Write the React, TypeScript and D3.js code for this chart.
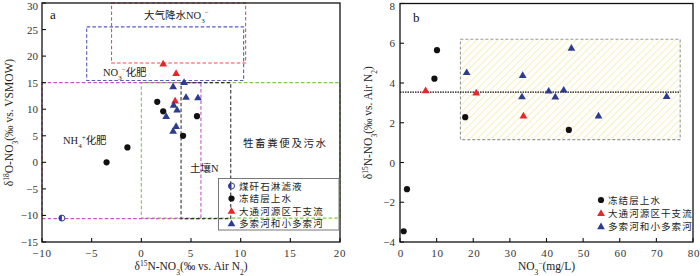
import React from "react";
import * as d3 from "d3";

// ---------- data ----------
// Panel a: δ15N (x) vs δ18O (y)
const coalX = [-8.0];
const coalY = [-10.5];
const frozenAX = [1.6, 2.2, 5.6, 4.2, -1.4, -3.5];
const frozenAY = [11.4, 9.6, 8.7, 5.0, 2.8, 0.0];
const redAX = [2.2, 3.5, 3.4];
const redAY = [18.6, 16.8, 11.6];
const blueAX = [4.3, 3.2, 4.5, 5.7, 3.25, 3.6, 2.5, 3.5, 3.2];
const blueAY = [15.1, 14.3, 12.3, 12.2, 10.8, 9.9, 8.7, 6.8, 5.9];

// Panel b: NO3- (x) vs δ15N (y)
const frozenBX = [10.1, 9.4, 17.8, 46.1, 1.9, 1.0];
const frozenBY = [5.65, 4.22, 2.28, 1.64, -1.34, -3.46];
const redBX = [7.0, 20.8, 33.7];
const redBY = [3.63, 3.52, 2.36];
const blueBX = [18.2, 33.5, 33.3, 40.6, 42.4, 44.7, 46.8, 54.2, 72.8];
const blueBY = [4.54, 4.4, 3.32, 3.61, 3.31, 3.66, 5.77, 2.36, 3.34];

// source regions in panel a: [x0, x1, y0, y1]
const regionRain = [-3, 10.5, 18.7, 30];
const regionNO3Fert = [-5.5, 10.3, 15.4, 25.5];
const regionNH4Fert = [-10, 6, -10.6, 15];
const regionManure = [0, 20, -10.5, 15];
const regionSoil = [4, 9, -10.6, 15];

// panel b reference
const hatchBox = [16.5, 76.5, 1.15, 6.2];
const meanLine = 3.54;
const meanLineExtent = [0, 76.5];

const ticksAX = [-10, -5, 0, 5, 10, 15, 20];
const ticksAY = [-15, -10, -5, 0, 5, 10, 15, 20, 25, 30];
const ticksBX = [0, 10, 20, 30, 40, 50, 60, 70, 80];
const ticksBY = [-4, -2, 0, 2, 4, 6, 8];

const legendA = ["煤矸石淋滤液", "冻结层上水", "大通河源区干支流", "多索河和小多索河"];
const legendB = ["冻结层上水", "大通河源区干支流", "多索河和小多索河"];

// ---------- styles ----------
const SERIF = "'Liberation Serif', 'Times New Roman', 'Noto Sans CJK SC', serif";
const CJK = "'Liberation Serif', 'Noto Sans CJK SC', sans-serif";
const RED = "#e8262a";
const BLUE = "#2d3c8e";
const BLACK = "#111";

const ax = d3.scaleLinear().domain([-10, 20]).range([42, 340]);
const ay = d3.scaleLinear().domain([-15, 30]).range([242, 3]);
const bx = d3.scaleLinear().domain([0, 80]).range([400, 693]);
const by = d3.scaleLinear().domain([-4, 8]).range([242, 3.5]);

const tri = d3.symbol(d3.symbolTriangle, 26)() as string;

function Tri({ x, y, c }: { x: number; y: number; c: string }) {
  return <path d={tri} transform={`translate(${x},${y + 0.6})`} fill={c} />;
}
function Dot({ x, y }: { x: number; y: number }) {
  return <circle cx={x} cy={y} r={3.1} fill={BLACK} />;
}
function Half({ x, y }: { x: number; y: number }) {
  const r = 3;
  return (
    <g>
      <circle cx={x} cy={y} r={r} fill="#fff" stroke={BLUE} strokeWidth={1} />
      <path d={`M${x},${y - r} A${r},${r} 0 0 0 ${x},${y + r} Z`} fill={BLUE} />
    </g>
  );
}

function Region({ r, color, sx, sy }: { r: number[]; color: string; sx: any; sy: any }) {
  const x0 = sx(r[0]), x1 = sx(r[1]), y0 = sy(r[3]), y1 = sy(r[2]);
  return (
    <rect x={x0} y={y0} width={x1 - x0} height={y1 - y0} fill="none" stroke={color}
      strokeWidth={1.1} strokeDasharray="3.5,2.2" />
  );
}

export default function App() {
  const aLeft = ax(-10), aRight = ax(20), aTop = ay(30), aBot = ay(-15);
  const bLeft = bx(0), bRight = bx(80), bTop = by(8), bBot = by(-4);
  const tickFont = { fontFamily: SERIF, fontSize: 11, fill: "#333" } as const;

  return (
    <svg width={700} height={276} style={{ position: "absolute", left: 0, top: 0, background: "#fff" }}>
      <defs>
        <pattern id="hatch" patternUnits="userSpaceOnUse" width={5} height={5} patternTransform="rotate(45)">
          <line x1={0} y1={0} x2={0} y2={5} stroke="#f3e79a" strokeWidth={1.3} />
        </pattern>
      </defs>
      <rect x={0} y={0} width={700} height={276} fill="#fff" />

      {/* ---------------- Panel a ---------------- */}
      <Region r={regionManure} color="#7cc84a" sx={ax} sy={ay} />
      <Region r={regionNH4Fert} color="#c455c4" sx={ax} sy={ay} />
      <Region r={regionSoil} color="#333" sx={ax} sy={ay} />
      <Region r={regionNO3Fert} color="#5a5ab8" sx={ax} sy={ay} />
      <Region r={regionRain} color="#f04a4e" sx={ax} sy={ay} />

      {/* axes frame */}
      <rect x={aLeft} y={aTop} width={aRight - aLeft} height={aBot - aTop} fill="none" stroke="#111" strokeWidth={1.3} />
      {ticksAY.map((t) => (
        <g key={"ay" + t}>
          <line x1={aLeft} x2={aLeft + 4} y1={ay(t)} y2={ay(t)} stroke="#111" strokeWidth={1.1} />
          <text x={aLeft - 4} y={Math.max(ay(t) + 4, 9.5)} textAnchor="end" {...tickFont}>
            {t < 0 ? "−" + Math.abs(t) : t}
          </text>
        </g>
      ))}
      {ticksAX.map((t) => (
        <g key={"ax" + t}>
          <line x1={ax(t)} x2={ax(t)} y1={aBot} y2={aBot - 4} stroke="#111" strokeWidth={1.1} />
          <text x={ax(t)} y={aBot + 15} textAnchor="middle" letterSpacing={0.8} {...tickFont}>
            {t < 0 ? "−" + Math.abs(t) : t}
          </text>
        </g>
      ))}

      {/* region labels */}
      <text x={144} y={19} fontFamily={CJK} fontSize={10.5} fill="#222">
        大气降水NO<tspan baselineShift="sub" fontSize={7}>3</tspan>
        <tspan baselineShift="super" fontSize={7}>−</tspan>
      </text>
      <text x={103} y={76} fontFamily={CJK} fontSize={10.5} fill="#222">
        NO<tspan baselineShift="sub" fontSize={7}>3</tspan>
        <tspan baselineShift="super" fontSize={7}>−</tspan>化肥
      </text>
      <text x={63} y={144} fontFamily={CJK} fontSize={10.5} fill="#222">
        NH<tspan baselineShift="sub" fontSize={7}>4</tspan>
        <tspan baselineShift="super" fontSize={7}>+</tspan>化肥
      </text>
      <text x={243} y={147} fontFamily={CJK} fontSize={10.5} letterSpacing={1.6} fill="#222">牲畜粪便及污水</text>
      <text x={190} y={171.5} fontFamily={CJK} fontSize={10.5} fill="#222">土壤N</text>
      <text x={50} y={19} fontFamily={SERIF} fontSize={13} fill="#111">a</text>

      {/* points a */}
      {coalX.map((x, i) => <Half key={"c" + i} x={ax(x)} y={ay(coalY[i])} />)}
      {frozenAX.map((x, i) => <Dot key={"fa" + i} x={ax(x)} y={ay(frozenAY[i])} />)}
      {redAX.map((x, i) => <Tri key={"ra" + i} x={ax(x)} y={ay(redAY[i])} c={RED} />)}
      {blueAX.map((x, i) => <Tri key={"ba" + i} x={ax(x)} y={ay(blueAY[i])} c={BLUE} />)}

      {/* legend a */}
      <rect x={218.5} y={178.5} width={120.5} height={51.5} fill="none" stroke="#777" strokeWidth={1} />
      {legendA.map((name, i) => {
        const yy = 186 + i * 12.5;
        return (
          <g key={"la" + i}>
            {i === 0 && <Half x={231.5} y={yy} />}
            {i === 1 && <Dot x={231.5} y={yy} />}
            {i === 2 && <Tri x={231.5} y={yy} c={RED} />}
            {i === 3 && <Tri x={231.5} y={yy} c={BLUE} />}
            <text x={239} y={yy + 3.8} fontFamily={CJK} fontSize={9.5} letterSpacing={1.1} fill="#222">{name}</text>
          </g>
        );
      })}

      {/* axis titles a */}
      <text transform={`translate(13,${(aTop + aBot) / 2}) rotate(-90)`} textAnchor="middle" fontFamily={SERIF} fontSize={11.5} fill="#222">
        δ<tspan baselineShift="super" fontSize={7.5}>18</tspan>O-NO<tspan baselineShift="sub" fontSize={7.5}>3</tspan>(‰ vs. VSMOW)
      </text>
      <text x={(aLeft + aRight) / 2} y={269.5} textAnchor="middle" fontFamily={SERIF} fontSize={11.5} fill="#222">
        δ<tspan baselineShift="super" fontSize={7.5}>15</tspan>N-NO<tspan baselineShift="sub" fontSize={7.5}>3</tspan>(‰ vs. Air N<tspan baselineShift="sub" fontSize={7.5}>2</tspan>)
      </text>

      {/* ---------------- Panel b ---------------- */}
      <rect x={bx(hatchBox[0])} y={by(hatchBox[3])} width={bx(hatchBox[1]) - bx(hatchBox[0])}
        height={by(hatchBox[2]) - by(hatchBox[3])} fill="url(#hatch)" stroke="#999" strokeWidth={1.1} strokeDasharray="3,2" />
      <line x1={bx(meanLineExtent[0])} x2={bx(meanLineExtent[1])} y1={by(meanLine)} y2={by(meanLine)}
        stroke="#111" strokeWidth={1.3} strokeDasharray="1.5,1" />

      <rect x={bLeft} y={bTop} width={bRight - bLeft} height={bBot - bTop} fill="none" stroke="#111" strokeWidth={1.3} />
      {ticksBY.map((t) => (
        <g key={"by" + t}>
          <line x1={bLeft} x2={bLeft + 4} y1={by(t)} y2={by(t)} stroke="#111" strokeWidth={1.1} />
          <text x={bLeft - 5} y={Math.max(by(t) + 4, 9.5)} textAnchor="end" {...tickFont}>
            {t < 0 ? "−" + Math.abs(t) : t}
          </text>
        </g>
      ))}
      {ticksBX.map((t) => (
        <g key={"bx" + t}>
          <line x1={bx(t)} x2={bx(t)} y1={bBot} y2={bBot - 4} stroke="#111" strokeWidth={1.1} />
          <text x={bx(t) + 1} y={bBot + 15} textAnchor="middle" letterSpacing={0.8} {...tickFont}>{t}</text>
        </g>
      ))}
      <text x={413} y={22} fontFamily={SERIF} fontSize={13} fill="#111">b</text>

      {frozenBX.map((x, i) => <Dot key={"fb" + i} x={bx(x)} y={by(frozenBY[i])} />)}
      {redBX.map((x, i) => <Tri key={"rb" + i} x={bx(x)} y={by(redBY[i])} c={RED} />)}
      {blueBX.map((x, i) => <Tri key={"bb" + i} x={bx(x)} y={by(blueBY[i])} c={BLUE} />)}

      {legendB.map((name, i) => {
        const yy = 200 + i * 13.2;
        return (
          <g key={"lb" + i}>
            {i === 0 && <Dot x={601} y={yy} />}
            {i === 1 && <Tri x={601} y={yy} c={RED} />}
            {i === 2 && <Tri x={601} y={yy} c={BLUE} />}
            <text x={608} y={yy + 3.8} fontFamily={CJK} fontSize={9.5} letterSpacing={1.1} fill="#222">{name}</text>
          </g>
        );
      })}

      <text transform={`translate(372,${(bTop + bBot) / 2}) rotate(-90)`} textAnchor="middle" fontFamily={SERIF} fontSize={11.5} fill="#222">
        δ<tspan baselineShift="super" fontSize={7.5}>15</tspan>N-NO<tspan baselineShift="sub" fontSize={7.5}>3</tspan>(‰ vs. Air N<tspan baselineShift="sub" fontSize={7.5}>2</tspan>)
      </text>
      <text x={(bLeft + bRight) / 2} y={269.5} textAnchor="middle" fontFamily={SERIF} fontSize={11.5} fill="#222">
        NO<tspan baselineShift="sub" fontSize={7.5}>3</tspan><tspan baselineShift="super" fontSize={7.5}>−</tspan>(mg/L)
      </text>
    </svg>
  );
}
